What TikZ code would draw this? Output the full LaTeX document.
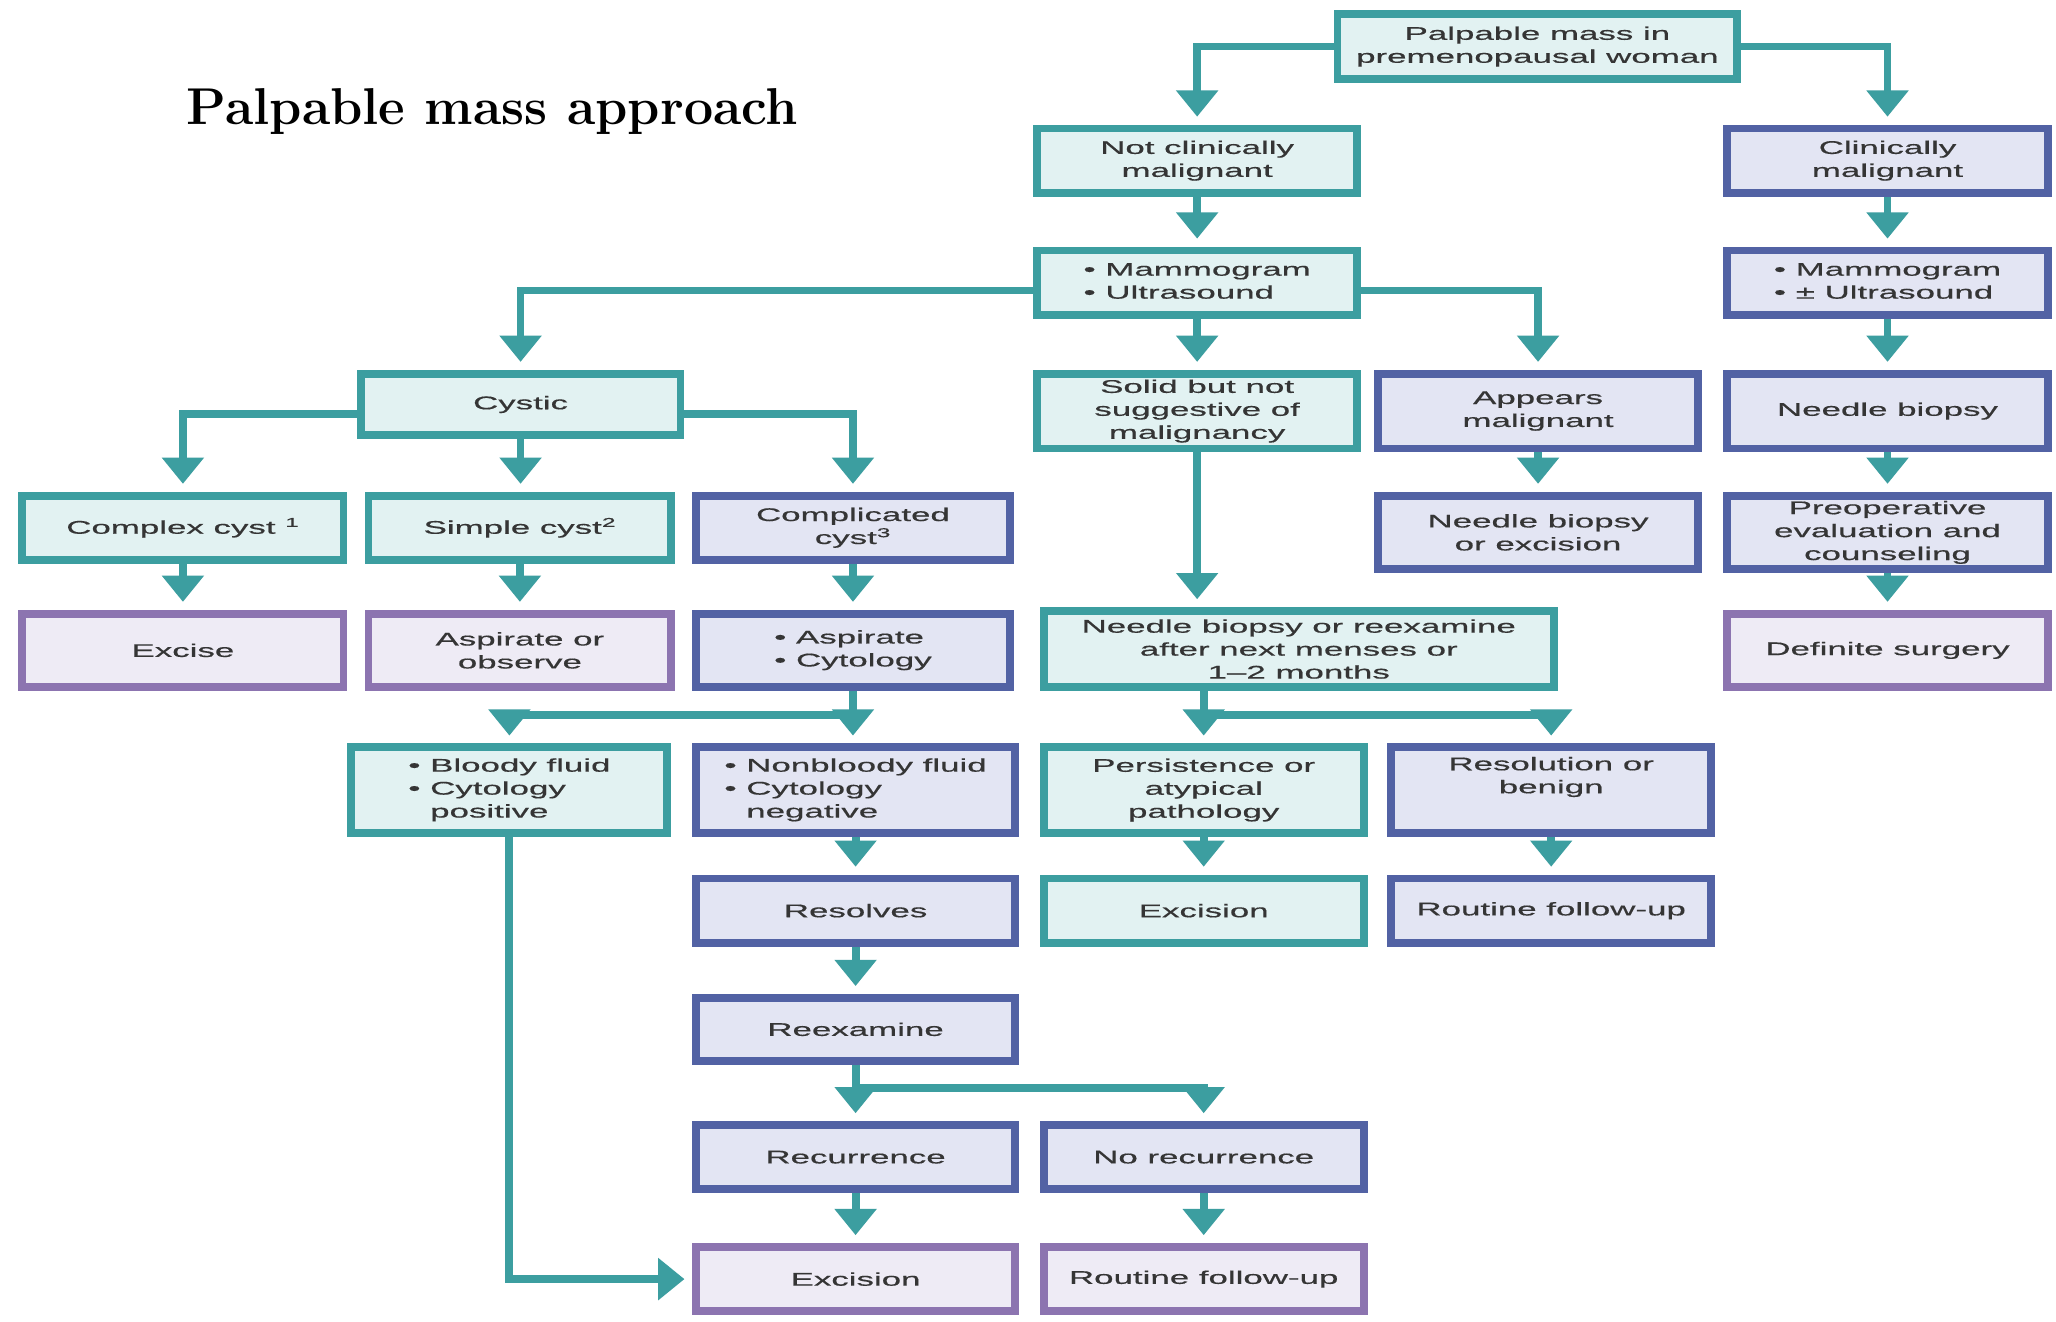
\documentclass[tikz,border=0pt]{standalone}
\usepackage{fontspec}
\newfontfamily\boxfont[FakeStretch=1.9,FakeBold=0.5]{Liberation Sans}
\usetikzlibrary{arrows.meta}
\definecolor{tealline}{HTML}{3C9EA0}
\definecolor{tealfill}{HTML}{E2F2F2}
\definecolor{blueline}{HTML}{5262A4}
\definecolor{bluefill}{HTML}{E3E5F3}
\definecolor{purpline}{HTML}{8C74B0}
\definecolor{purpfill}{HTML}{EEEBF5}
\definecolor{inktext}{HTML}{353535}
\tikzset{
  box/.style={draw, line width=6pt, inner sep=0pt, align=center,
    font=\boxfont\fontsize{14}{17.5}\selectfont, text=inktext},
  tbox/.style={box, draw=tealline, fill=tealfill},
  bbox/.style={box, draw=blueline, fill=bluefill},
  pbox/.style={box, draw=purpline, fill=purpfill},
  wh/.style 2 args={minimum width=#1pt-6pt, minimum height=#2pt-6pt},
  flow/.style={draw=tealline, line width=6pt, shorten >=6pt,
    -{Triangle[width=31pt,length=20pt]}},
  link/.style={draw=tealline, line width=6pt},
}
\begin{document}
\begin{tikzpicture}[x=1pt,y=-1pt]
\useasboundingbox[fill=white] (0,0) rectangle (1568,1008);

\node[anchor=base west, font=\bfseries\fontsize{39.5}{42}\selectfont] (title) at (139,95) {Palpable mass approach};

% first levels
\node[tbox, wh={311}{55}] (top) at (1172.5,35.5) {Palpable mass in\\premenopausal woman};
\node[tbox, wh={250}{55}] (notclin) at (913,122.5) {Not clinically\\malignant};
\node[bbox, wh={251}{55}] (clin) at (1439.5,122.5) {Clinically\\malignant};
\node[tbox, wh={250}{55}] (mammo) at (913,215.5) {\begin{tabular}{@{}l@{}}• Mammogram\\• Ultrasound\end{tabular}};
\node[bbox, wh={251}{55}] (mammor) at (1439.5,215.5) {\begin{tabular}{@{}l@{}}• Mammogram\\• ± Ultrasound\end{tabular}};

% findings
\node[tbox, wh={250}{53}] (cystic) at (397,308.5) {Cystic};
\node[tbox, wh={250}{63}] (solid) at (913,313.5) {Solid but not\\suggestive of\\malignancy};
\node[bbox, wh={250}{63}] (appears) at (1173,313.5) {Appears\\malignant};
\node[bbox, wh={251}{63}] (needler) at (1439.5,313.5) {Needle biopsy};

% cyst types and next steps
\node[tbox, wh={251}{55}] (complex) at (139.5,402.5) {Complex cyst \textsuperscript{1}};
\node[tbox, wh={237}{55}] (simple) at (396.5,402.5) {Simple cyst\textsuperscript{2}};
\node[bbox, wh={245}{55}] (complic) at (650.5,402.5) {Complicated\\cyst\textsuperscript{3}};
\node[bbox, wh={250}{62}] (needleexc) at (1173,406) {Needle biopsy\\or excision};
\node[bbox, wh={251}{62}] (preop) at (1439.5,406) {Preoperative\\evaluation and\\counseling};

\node[pbox, wh={251}{62}] (excise) at (139.5,496) {Excise};
\node[pbox, wh={237}{62}] (aspobs) at (396.5,496) {Aspirate or\\observe};
\node[bbox, wh={245}{62}] (aspcyt) at (650.5,496) {\begin{tabular}{@{}l@{}}• Aspirate\\• Cytology\end{tabular}};
\node[tbox, wh={395}{64}] (needlereex) at (990.5,495) {Needle biopsy or reexamine\\after next menses or\\1–2 months};
\node[pbox, wh={251}{62}] (definite) at (1439.5,496) {Definite surgery};

% results
\node[tbox, wh={247}{71}] (bloody) at (388.5,602.5) {\begin{tabular}{@{}l@{}}• Bloody fluid\\• Cytology\\\phantom{• }positive\end{tabular}};
\node[bbox, wh={249}{71}] (nonbloody) at (652.5,602.5) {\begin{tabular}{@{}l@{}}• Nonbloody fluid\\• Cytology\\\phantom{• }negative\end{tabular}};
\node[tbox, wh={250}{71}] (persist) at (918,602.5) {Persistence or\\atypical\\pathology};
\node[bbox, wh={250}{71}] (resol) at (1183,602.5) {Resolution or\\benign\\\strut};

\node[bbox, wh={249}{55}] (resolves) at (652.5,694.5) {Resolves};
\node[tbox, wh={250}{55}] (excmid) at (918,694.5) {Excision};
\node[bbox, wh={250}{55}] (routiner) at (1183,694.5) {Routine follow-up};

\node[bbox, wh={249}{54}] (reexam) at (652.5,785) {Reexamine};
\node[bbox, wh={249}{55}] (recur) at (652.5,882.5) {Recurrence};
\node[bbox, wh={250}{55}] (norecur) at (918,882.5) {No recurrence};
\node[pbox, wh={249}{55}] (excbot) at (652.5,975.5) {Excision};
\node[pbox, wh={250}{55}] (routinebot) at (918,975.5) {Routine follow-up};

% connectors
\draw[flow] (top.west) -| (notclin.north);
\draw[flow] (top.east) -| (clin.north);
\draw[flow] (notclin.south) -- (mammo.north);
\draw[flow] (clin.south) -- (mammor.north);
\draw[flow] ([yshift=-6pt]mammo.west) -| (cystic.north);
\draw[flow] (mammo.south) -- (solid.north);
\draw[flow] ([yshift=-6pt]mammo.east) -| (appears.north);
\draw[flow] (mammor.south) -- (needler.north);

\draw[flow] ([yshift=-7pt]cystic.west) -| (complex.north);
\draw[flow] (cystic.south) -- (cystic.south |- simple.north);
\draw[flow] ([yshift=-7pt]cystic.east) -| (complic.north);
\draw[flow] (solid.south) -- (solid.south |- needlereex.north);
\draw[flow] (appears.south) -- (needleexc.north);
\draw[flow] (needler.south) -- (preop.north);

\draw[flow] (complex.south) -- (excise.north);
\draw[flow] (simple.south) -- (aspobs.north);
\draw[flow] (complic.south) -- (aspcyt.north);
\draw[flow] (preop.south) -- (definite.north);

\coordinate (j1) at ([yshift=-18pt]aspcyt.south);
\draw[flow] (aspcyt.south) -- (aspcyt.south |- nonbloody.north);
\draw[flow] (j1) -| (bloody.north);

\coordinate (j2) at ([yshift=-18pt]needlereex.south -| persist.north);
\draw[link] (needlereex.south -| persist.north) -- (j2);
\draw[flow] (j2) -- (persist.north);
\draw[flow] (j2) -| (resol.north);

\draw[flow] (bloody.south) |- (excbot.west);
\draw[flow] (nonbloody.south) -- (resolves.north);
\draw[flow] (persist.south) -- (excmid.north);
\draw[flow] (resol.south) -- (routiner.north);
\draw[flow] (resolves.south) -- (reexam.north);

\coordinate (j3) at ([yshift=-18pt]reexam.south);
\draw[flow] (reexam.south) -- (recur.north);
\draw[flow] (j3) -| (norecur.north);
\draw[flow] (recur.south) -- (excbot.north);
\draw[flow] (norecur.south) -- (routinebot.north);
\end{tikzpicture}
\end{document}
